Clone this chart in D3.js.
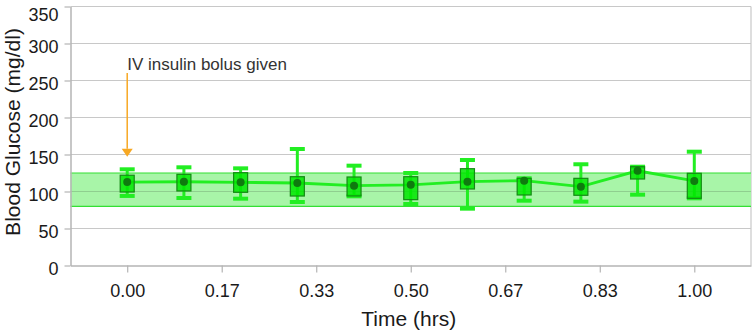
<!DOCTYPE html>
<html>
<head>
<meta charset="utf-8">
<script src="https://cdnjs.cloudflare.com/ajax/libs/d3/7.8.5/d3.min.js"></script>
<style>
  body { margin: 0; background: #fff; }
  text { font-family: "Liberation Sans", Arial, sans-serif; }
</style>
</head>
<body>
<div id="canvas"></div>
<script>
// sample times (hrs) and the box stats for each one
var times = [0, 0.1, 0.2, 0.3, 0.4, 0.5, 0.6, 0.7, 0.8, 0.9, 1.0];
var means = [112.8, 113.2, 112.4, 111.5, 107.9, 109.0, 113.3, 114.6, 106.5, 128.0, 114.2];
var q3s   = [122.0, 123.2, 125.4, 120.0, 119.6, 120.0, 130.8, 117.8, 117.8, 133.5, 124.6];
var q1s   = [99.3, 100.7, 98.9, 93.9, 94.0, 89.0, 103.4, 95.3, 94.9, 116.9, 90.8];
var maxs  = [130.0, 132.7, 131.3, 157.4, 134.9, 125.0, 142.6, 117.8, 136.8, 133.5, 153.8];
var mins  = [94.0, 91.2, 90.3, 85.8, 93.5, 83.1, 76.8, 87.6, 86.3, 95.7, 90.8];

// target range band
var targetLow = 80;
var targetHigh = 125;

var xTicks = [0, 1/6, 2/6, 3/6, 4/6, 5/6, 1];
var yTicks = [0, 50, 100, 150, 200, 250, 300, 350];

var annotation = { t: 0, v: 147, label: 'IV insulin bolus given' };

var W = 755, H = 332;
var padL = 70.5, padR = 751, padT = 6.5, padB = 265.5;

var svg = d3.select('#canvas').append('svg')
  .attr('width', W)
  .attr('height', H);

var x = d3.scaleLinear().domain([-0.1, 1.1]).range([padL, padR]);
var y = d3.scaleLinear().domain([0, 350]).range([padB, padT]);

// gridlines
svg.append('g').selectAll('line').data(yTicks.slice(1))
  .enter().append('line')
  .attr('x1', padL).attr('x2', padR)
  .attr('y1', function (d) { return y(d); })
  .attr('y2', function (d) { return y(d); })
  .attr('stroke', '#c8c8c8')
  .attr('stroke-width', 1.2);

// right border
svg.append('line')
  .attr('x1', padR).attr('x2', padR)
  .attr('y1', y(350)).attr('y2', y(0))
  .attr('stroke', '#c8c8c8').attr('stroke-width', 1.2);

// target band
svg.append('rect')
  .attr('x', padL).attr('width', padR - padL)
  .attr('y', y(targetHigh)).attr('height', y(targetLow) - y(targetHigh))
  .attr('fill', '#a8f5a8');
svg.append('g').selectAll('line').data([targetLow, targetHigh])
  .enter().append('line')
  .attr('x1', padL).attr('x2', padR)
  .attr('y1', function (d) { return y(d); })
  .attr('y2', function (d) { return y(d); })
  .attr('stroke', '#33e033')
  .attr('stroke-width', 1.2);
// the 100 gridline shows through the band
svg.append('line')
  .attr('x1', padL).attr('x2', padR)
  .attr('y1', y(100)).attr('y2', y(100))
  .attr('stroke', '#8fcf8f').attr('stroke-width', 1);

// axes
var yAxis = d3.axisLeft(y).tickValues(yTicks).tickSize(6).tickSizeOuter(0).tickPadding(6);
var gy = svg.append('g').attr('transform', 'translate(' + padL + ',0)').call(yAxis);
var xAxis = d3.axisBottom(x).tickValues(xTicks).tickFormat(d3.format('.2f'))
  .tickSize(7).tickSizeOuter(0).tickPadding(12);
var gx = svg.append('g').attr('transform', 'translate(0,' + padB + ')').call(xAxis);

[gx, gy].forEach(function (g) {
  g.select('.domain').attr('stroke', '#b4b4b4').attr('stroke-width', 1.5);
  g.selectAll('.tick line').attr('stroke', '#b4b4b4').attr('stroke-width', 1.2);
  g.selectAll('.tick text')
    .attr('fill', '#1a1a1a')
    .style('font-size', '18px')
    .style('font-family', '"Liberation Sans", Arial, sans-serif');
});
// labels sit a little under their gridline; the top one is pushed into view
gy.selectAll('.tick text')
  .attr('dy', '0.42em')
  .attr('y', function (d) { return d === 350 ? 6 : 1; });

// axis titles
svg.append('text')
  .attr('x', (x(0) + x(1)) / 2 - 2).attr('y', 326)
  .attr('text-anchor', 'middle')
  .attr('fill', '#1a1a1a')
  .style('font-size', '21px')
  .text('Time (hrs)');
svg.append('text')
  .attr('transform', 'translate(20,' + 132 + ') rotate(-90)')
  .attr('text-anchor', 'middle')
  .attr('fill', '#1a1a1a')
  .style('font-size', '21px')
  .text('Blood Glucose (mg/dl)');

var data = times.map(function (t, i) {
  return { t: t, mean: means[i], q1: q1s[i], q3: q3s[i], lo: mins[i], hi: maxs[i] };
});

var green = '#22ee22';
var dark = '#138a13';

// whiskers
var wg = svg.append('g');
wg.selectAll('line.whisker').data(data)
  .enter().append('line')
  .attr('class', 'whisker')
  .attr('x1', function (d) { return x(d.t); })
  .attr('x2', function (d) { return x(d.t); })
  .attr('y1', function (d) { return y(d.lo); })
  .attr('y2', function (d) { return y(d.hi); })
  .attr('stroke', green).attr('stroke-width', 3);
wg.selectAll('line.capHi').data(data)
  .enter().append('line')
  .attr('class', 'capHi')
  .attr('x1', function (d) { return x(d.t) - 7.5; })
  .attr('x2', function (d) { return x(d.t) + 7.5; })
  .attr('y1', function (d) { return y(d.hi); })
  .attr('y2', function (d) { return y(d.hi); })
  .attr('stroke', green).attr('stroke-width', 4);
wg.selectAll('line.capLo').data(data)
  .enter().append('line')
  .attr('class', 'capLo')
  .attr('x1', function (d) { return x(d.t) - 7.5; })
  .attr('x2', function (d) { return x(d.t) + 7.5; })
  .attr('y1', function (d) { return y(d.lo); })
  .attr('y2', function (d) { return y(d.lo); })
  .attr('stroke', green).attr('stroke-width', 4);

// mean line
svg.append('path').datum(data)
  .attr('d', d3.line()
    .x(function (d) { return x(d.t); })
    .y(function (d) { return y(d.mean); }))
  .attr('fill', 'none')
  .attr('stroke', green)
  .attr('stroke-width', 2.8);

// boxes
svg.append('g').selectAll('rect').data(data)
  .enter().append('rect')
  .attr('x', function (d) { return x(d.t) - 7; })
  .attr('width', 14)
  .attr('y', function (d) { return y(d.q3); })
  .attr('height', function (d) { return y(d.q1) - y(d.q3); })
  .attr('fill', '#00e600')
  .attr('fill-opacity', 0.85)
  .attr('stroke', dark)
  .attr('stroke-width', 1.2);

// mean dots
svg.append('g').selectAll('circle').data(data)
  .enter().append('circle')
  .attr('r', 4)
  .attr('cx', function (d) { return x(d.t); })
  .attr('cy', function (d) { return y(d.mean); })
  .attr('fill', '#0f7a0f');

// annotation arrow
var ax = x(annotation.t);
svg.append('line')
  .attr('x1', ax).attr('x2', ax)
  .attr('y1', 73).attr('y2', y(annotation.v) - 8)
  .attr('stroke', '#f7a823').attr('stroke-width', 1.5);
svg.append('path')
  .attr('d', 'M' + (ax - 5.5) + ',' + (y(annotation.v) - 8) + 'L' + (ax + 5.5) + ',' + (y(annotation.v) - 8) + 'L' + ax + ',' + y(annotation.v) + 'Z')
  .attr('fill', '#f7a823');
svg.append('text')
  .attr('x', ax).attr('y', 70)
  .attr('fill', '#333')
  .style('font-size', '17px')
  .text(annotation.label);
</script>
</body>
</html>
